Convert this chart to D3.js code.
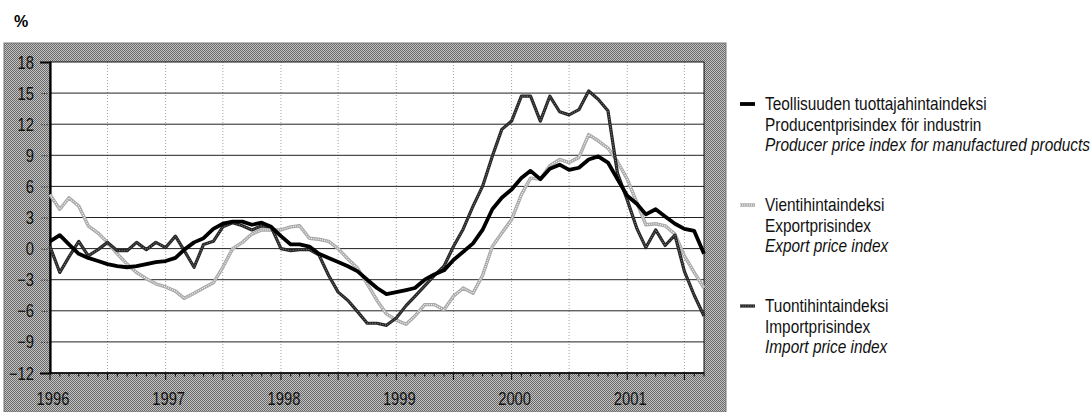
<!DOCTYPE html>
<html>
<head>
<meta charset="utf-8">
<script src="https://cdn.jsdelivr.net/npm/d3@7"></script>
<style>
  body { margin: 0; background: #fff; }
  svg { display: block; font-family: "Liberation Sans", Arial, sans-serif; }
  .tick-label { font-size: 18px; fill: #111; }
  .legend-text { font-size: 17.5px; fill: #111; }
</style>
</head>
<body>
<div id="chart"></div>
<script>
const width = 1091;
const height = 412;

// Monthly change, % on a year earlier, Jan 1996 - Sep 2001
const startMonth = '1996-01';
const endMonth = '2001-09';

const producer = [
  0.7, 1.3, 0.4, -0.5, -0.9, -1.2, -1.5, -1.7, -1.8, -1.7, -1.5, -1.3,
  -1.2, -0.9, -0.1, 0.6, 1.0, 1.9, 2.4, 2.6, 2.6, 2.3, 2.5, 2.1,
  1.2, 0.4, 0.4, 0.2, -0.5, -0.9, -1.3, -1.7, -2.2, -3.0, -3.8, -4.4,
  -4.2, -4.0, -3.8, -3.0, -2.5, -2.1, -1.1, -0.3, 0.5, 1.8, 3.8, 4.9,
  5.7, 6.8, 7.5, 6.7, 7.7, 8.1, 7.6, 7.8, 8.6, 8.9, 8.3, 6.7,
  5.1, 4.3, 3.3, 3.8, 3.1, 2.4, 1.9, 1.7, -0.5
];

const exportIdx = [
  5.2, 3.8, 4.9, 4.1, 2.2, 1.5, 0.6, -0.5, -1.5, -2.3, -2.9, -3.4,
  -3.7, -4.1, -4.8, -4.3, -3.8, -3.3, -1.8, 0.0, 0.6, 1.4, 1.8, 1.8,
  1.8, 2.1, 2.2, 1.0, 0.9, 0.7, 0.0, -1.0, -1.9, -3.4, -5.0, -6.3,
  -6.9, -7.3, -6.5, -5.4, -5.4, -5.9, -4.6, -3.8, -4.3, -2.6, 0.2, 1.5,
  2.8, 5.2, 6.8, 6.7, 8.0, 8.6, 8.3, 8.8, 11.0, 10.4, 9.7, 8.4,
  6.7, 4.4, 2.3, 2.4, 2.2, 1.4, -0.7, -2.3, -3.8
];

const importIdx = [
  0.2, -2.3, -0.8, 0.7, -0.7, -0.1, 0.6, -0.2, -0.2, 0.6, -0.1, 0.6,
  0.1, 1.2, -0.2, -1.8, 0.4, 0.7, 2.1, 2.5, 2.2, 1.8, 2.2, 2.1,
  0.0, -0.2, -0.1, -0.1, -0.6, -2.6, -4.2, -5.0, -6.1, -7.2, -7.2, -7.4,
  -6.7, -5.5, -4.6, -3.6, -2.6, -1.7, 0.2, 1.9, 4.1, 6.0, 8.9, 11.5,
  12.3, 14.7, 14.7, 12.3, 14.7, 13.2, 12.9, 13.4, 15.2, 14.4, 13.3, 7.3,
  4.7, 1.9, 0.1, 1.8, 0.3, 1.3, -2.2, -4.5, -6.5
];

const yTicks = [18, 15, 12, 9, 6, 3, 0, -3, -6, -9, -12];
const yearLabels = ['1996', '1997', '1998', '1999', '2000', '2001'];

const legendItems = [
  {key: 'producer', lines: ['Teollisuuden tuottajahintaindeksi', 'Producentprisindex för industrin', 'Producer price index for manufactured products']},
  {key: 'export', lines: ['Vientihintaindeksi', 'Exportprisindex', 'Export price index']},
  {key: 'import', lines: ['Tuontihintaindeksi', 'Importprisindex', 'Import price index']}
];

const parseMonth = d3.timeParse('%Y-%m');
const months = d3.timeMonth.range(parseMonth(startMonth), d3.timeMonth.offset(parseMonth(endMonth), 1));

// plot box inside the grey frame
const frame = {x0: 4, y0: 43, x1: 726, y1: 412};
const plot = {x0: 50, y0: 62, x1: 704, y1: 373};

const svg = d3.select('#chart')
  .append('svg')
  .attr('width', width)
  .attr('height', height);

// the original uses a condensed face, so squeeze the text horizontally
function narrowText(parent, x, y, txt, cls, anchor, squeeze) {
  return parent.append('text')
    .attr('class', cls)
    .attr('transform', 'translate(' + x + ',' + y + ') scale(' + squeeze + ',1)')
    .attr('text-anchor', anchor || 'start')
    .text(txt);
}

// checkered grey fill of the outer frame
const defs = svg.append('defs');
const pat = defs.append('pattern')
  .attr('id', 'checker')
  .attr('width', 2).attr('height', 2)
  .attr('patternUnits', 'userSpaceOnUse');
pat.append('rect').attr('width', 2).attr('height', 2).attr('fill', '#c2c2c2');
pat.append('rect').attr('width', 1).attr('height', 1).attr('fill', '#6a6a6a');
pat.append('rect').attr('x', 1).attr('y', 1).attr('width', 1).attr('height', 1).attr('fill', '#6a6a6a');

svg.append('text')
  .attr('x', 14).attr('y', 27)
  .attr('font-size', 16).attr('font-weight', 'bold')
  .text('%');

svg.append('rect')
  .attr('x', frame.x0).attr('y', frame.y0)
  .attr('width', frame.x1 - frame.x0).attr('height', frame.y1 - frame.y0)
  .attr('fill', 'url(#checker)')
  .attr('stroke', '#777').attr('stroke-width', 1);

svg.append('rect')
  .attr('x', plot.x0).attr('y', plot.y0)
  .attr('width', plot.x1 - plot.x0).attr('height', plot.y1 - plot.y0)
  .attr('fill', '#fff');

const xscale = d3.scaleTime()
  .domain(d3.extent(months))
  .range([plot.x0, plot.x1]);
const yscale = d3.scaleLinear()
  .domain([-12, 18])
  .range([plot.y1, plot.y0]);

// vertical dotted grid every half year
svg.append('g')
  .selectAll('line')
  .data(months.filter((d, i) => i > 0 && d.getMonth() % 6 === 0))
  .enter()
  .append('line')
  .attr('x1', d => xscale(d)).attr('x2', d => xscale(d))
  .attr('y1', plot.y0).attr('y2', plot.y1)
  .attr('stroke', '#888')
  .attr('stroke-width', 0.8)
  .attr('stroke-dasharray', '1,2');

// horizontal grid lines
svg.append('g')
  .selectAll('line')
  .data(yTicks.filter(v => v > -12 && v < 18))
  .enter()
  .append('line')
  .attr('x1', plot.x0).attr('x2', plot.x1)
  .attr('y1', d => yscale(d)).attr('y2', d => yscale(d))
  .attr('stroke', '#222')
  .attr('stroke-width', 1);

// plot border
svg.append('rect')
  .attr('x', plot.x0).attr('y', plot.y0)
  .attr('width', plot.x1 - plot.x0).attr('height', plot.y1 - plot.y0)
  .attr('fill', 'none')
  .attr('stroke', '#111').attr('stroke-width', 1);

// y axis (labels drawn narrow by hand)
const yaxis = d3.axisLeft(yscale)
  .tickValues(yTicks)
  .tickSize(10)
  .tickFormat('');
const yg = svg.append('g')
  .attr('transform', 'translate(' + plot.x0 + ',0)')
  .call(yaxis);
yg.select('.domain').attr('stroke', '#000').attr('stroke-width', 2.2);
yg.selectAll('.tick line').attr('stroke', '#111').attr('stroke-dasharray', '1,1.5');
yTicks.forEach(v => {
  narrowText(svg, plot.x0 - 16, yscale(v) + 6.5, d3.format('d')(v), 'tick-label', 'end', 0.82);
});

// x axis: month ticks, longer at half years
const xg = svg.append('g')
  .attr('transform', 'translate(0,' + plot.y1 + ')');
xg.append('line')
  .attr('x1', plot.x0).attr('x2', plot.x1)
  .attr('stroke', '#000').attr('stroke-width', 1.6);
xg.selectAll('.mtick')
  .data(months)
  .enter()
  .append('line')
  .attr('class', 'mtick')
  .attr('x1', d => xscale(d)).attr('x2', d => xscale(d))
  .attr('y1', 0)
  .attr('y2', d => d.getMonth() % 6 === 0 ? 7 : 3.5)
  .attr('stroke', '#111')
  .attr('stroke-width', 1.1);
yearLabels.forEach(y => {
  narrowText(xg, xscale(parseMonth(y + '-01')) + 3, 32, y, 'tick-label', 'middle', 0.82);
});

// line styles
const styles = {
  producer: [{stroke: '#000', width: 3.8}],
  export: [{stroke: '#a8a8a8', width: 3.4}, {stroke: '#f4f4f4', width: 1.3, dash: '1,1.2'}],
  import: [{stroke: '#262626', width: 3.2}, {stroke: '#8a8a8a', width: 1, dash: '1,1.6'}]
};

const line = d3.line()
  .x((d, i) => xscale(months[i]))
  .y(d => yscale(d));

function drawSeries(g, values, layers) {
  layers.forEach(s => {
    g.append('path')
      .datum(values)
      .attr('d', line)
      .attr('fill', 'none')
      .attr('stroke', s.stroke)
      .attr('stroke-width', s.width)
      .attr('stroke-linejoin', 'round')
      .attr('stroke-dasharray', s.dash || null);
  });
}

const lines = svg.append('g');
drawSeries(lines, exportIdx, styles.export);
drawSeries(lines, importIdx, styles.import);
drawSeries(lines, producer, styles.producer);

// legend
const legendTop = [104, 205, 306];
const lineStep = 20.5;
legendItems.forEach((item, k) => {
  const y0 = legendTop[k];
  styles[item.key].forEach(s => {
    svg.append('line')
      .attr('x1', 740).attr('x2', 755)
      .attr('y1', y0).attr('y2', y0)
      .attr('stroke', s.stroke)
      .attr('stroke-width', s.width)
      .attr('stroke-dasharray', s.dash || null);
  });
  item.lines.forEach((t, j) => {
    narrowText(svg, 765, y0 + j * lineStep + 6, t, 'legend-text', 'start', 0.88)
      .attr('font-style', j === 2 ? 'italic' : null);
  });
});
</script>
</body>
</html>
